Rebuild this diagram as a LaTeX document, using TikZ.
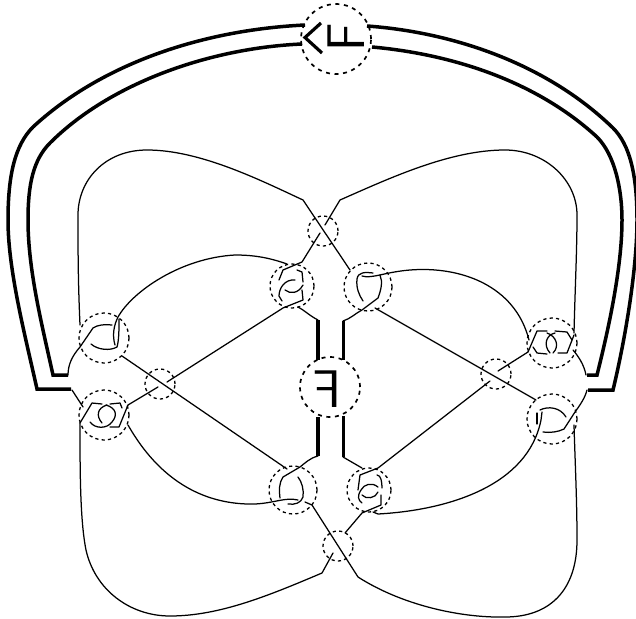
\documentclass[tikz,border=0pt]{standalone}
\usepackage{fontspec}
\newfontfamily\glyphfont{Latin Modern Sans}
\begin{document}
\begin{tikzpicture}[x=1pt,y=-1pt,
  strand/.style={line width=1.25pt,line cap=round,line join=round},
  band/.style={line width=3.5pt,line join=miter,line cap=butt},
  bandthin/.style={line width=3pt,line join=miter,line cap=butt},
  ring/.style={draw,circle,inner sep=0pt,line width=1.3pt,dash pattern=on 3.2pt off 3.2pt},
  bigring/.style={draw,circle,inner sep=0pt,line width=1.7pt,dash pattern=on 4pt off 4.6pt},
  glyph/.style={inner sep=0pt,font=\fontsize{53}{53}\selectfont\glyphfont}]
\useasboundingbox (0,0) rectangle (636,618);
% dashed rings
\node[bigring,minimum size=70pt] (topring) at (336,39) {};
\node[bigring,minimum size=60pt] (midring) at (330,387) {};
\foreach \nm/\px/\py/\dd in {lu/104/338/50,ll/104/415/50,cu/292/286/44,du/368/287/48,
   cl/293/490/48,dl/369/490/44,ru/552/343/50,rl/552/419/50}
  \node[ring,minimum size=\dd pt] (\nm) at (\px,\py) {};
\foreach \nm/\px/\py in {xt/323/231,xb/338/546,xl/160/384,xr/496/374}
  \node[ring,minimum size=30pt] (\nm) at (\px,\py) {};
% outer band
\draw[band] (71,389) -- (37,389) .. controls (25,335) and (8,270) .. (8,220) .. controls (8,175) and (15,145) .. (33,127) .. controls (100,65) and (200,30) .. (305,25);
\draw[band] (68,375) -- (53,375) .. controls (42,325) and (28,270) .. (28,220) .. controls (28,185) and (33,160) .. (50,143) .. controls (110,83) and (210,48) .. (302,44);
\draw[band] (588,390) -- (613,390) .. controls (625,340) and (637,270) .. (637,220) .. controls (637,175) and (630,145) .. (613,128) .. controls (545,62) and (450,32) .. (367,26);
\draw[band] (587,375) -- (597,375) .. controls (607,335) and (622,270) .. (622,220) .. controls (622,190) and (615,155) .. (597,137) .. controls (535,80) and (450,54) .. (372,47);
% centre band
\draw[band] (318,320) -- (318,360);
\draw[band] (318,417) -- (318,456);
\draw[bandthin] (343,321) -- (343,360);
\draw[bandthin] (343,416) -- (343,457);
% glyphs
\node[glyph,xscale=-1,yscale=1] (fmid) at (327,389.5) {F};
\node[glyph,rotate=90] (ftop) at (346,37) {F};
\draw[line width=3.2pt,miter limit=10] (321,23) -- (305,37.5) -- (322,53);
% big outer loops
\draw[strand] (80,325) .. controls (78,280) and (78,250) .. (78,215) .. controls (78,180) and (105,150) .. (147,150) .. controls (200,150) and (260,180) .. (303,200) -- (350,270);
\draw[strand] (574,333) .. controls (575,290) and (577,250) .. (577,215) .. controls (577,180) and (545,150) .. (505,150) .. controls (450,150) and (390,178) .. (340,200) -- (325,225);
\draw[strand] (320,233) -- (302,262) -- (283,270) -- (279,280);
\draw[strand] (80,423) .. controls (80,470) and (80,520) .. (86,550) .. controls (95,590) and (130,616) .. (170,616) .. controls (220,616) and (270,595) .. (322,573) -- (333,553);
\draw[strand] (345,533) -- (362,513) -- (381,505) -- (381,495);
\draw[strand] (305,502) -- (312,505) -- (358,577) .. controls (405,607) and (465,618) .. (505,617) .. controls (550,617) and (577,590) .. (577,540) .. controls (577,500) and (575,460) .. (574,425);
% long diagonals
\draw[strand] (122,356) -- (287,469);
\draw[strand] (375,308) -- (536,400);
\draw[strand] (128,405) -- (158,387);
\draw[strand] (167,382) -- (283,308) -- (303,300) -- (302,290);
\draw[strand] (358,490) -- (360,475) -- (378,468) -- (490,381);
\draw[strand] (498,371) -- (528,352);
% inner curves
\draw[strand] (115,345) .. controls (112,335) and (114,325) .. (118,317) .. controls (132,292) and (180,258) .. (235,255) .. controls (255,255) and (270,258) .. (287,264);
\draw[strand] (362,276) .. controls (372,279) and (385,272) .. (410,270) .. controls (460,266) and (515,285) .. (529,340);
\draw[strand] (128,425) .. controls (165,490) and (215,505) .. (255,504) .. controls (275,503) and (285,497) .. (298,500);
\draw[strand] (373,512) -- (378,514) .. controls (450,510) and (528,485) .. (541,420) -- (542,412);
% joins to bands
\draw[strand] (112,325) .. controls (105,324) and (97,325) .. (93,328) -- (80,347) .. controls (72,356) and (68,365) .. (68,375);
\draw[strand] (72,390) -- (83,407);
\draw[strand] (318,320) .. controls (310,316) and (304,310) .. (298,307);
\draw[strand] (343,321) .. controls (350,319) and (356,313) .. (362,310) -- (378,298) .. controls (381,290) and (383,282) .. (380,275);
\draw[strand] (318,456) .. controls (310,458) and (305,463) .. (300,467) -- (283,477) .. controls (279,483) and (279,490) .. (280,498);
\draw[strand] (343,457) -- (362,468);
\draw[strand] (573,350) .. controls (579,357) and (584,365) .. (586,375);
\draw[strand] (587,390) .. controls (585,398) and (580,405) .. (575,412) -- (564,429) .. controls (558,432) and (550,433) .. (543,432);
% left upper tangle
\draw[strand] (119,319) .. controls (119,330) and (119,340) .. (117,347) .. controls (110,351) and (98,350) .. (91,344);
% left lower tangle
\draw[strand] (80,423) -- (92,403) -- (102,404);
\draw[strand] (128,405) -- (119,427) -- (110,427);
\draw[strand] (110,404) -- (120,403) -- (122,408);
\draw[strand] (90,422) .. controls (95,429) and (107,429) .. (112,422) .. controls (118,415) and (116,408) .. (106,405);
\draw[strand] (107,405) .. controls (97,408) and (96,416) .. (102,423);
% centre upper tangle
\draw[strand] (297,270) -- (302,272) -- (303,282);
\draw[strand] (295,280) .. controls (285,279) and (279,288) .. (279,296) -- (282,301);
\draw[strand] (285,290) .. controls (290,294) and (298,294) .. (303,285);
% right upper small tangle
\draw[strand] (373,273) .. controls (365,272) and (358,272) .. (357,279) .. controls (356,288) and (359,295) .. (363,301);
% centre lower tangle
\draw[strand] (298,477) .. controls (302,482) and (304,490) .. (303,497) .. controls (301,503) and (295,505) .. (288,504);
% right lower tangle
\draw[strand] (377,475) .. controls (381,475) and (382,482) .. (382,488);
\draw[strand] (378,487) .. controls (372,482) and (364,484) .. (361,490) .. controls (357,496) and (358,500) .. (362,503);
\draw[strand] (362,495) .. controls (366,500) and (376,498) .. (378,492);
% right upper tangle
\draw[strand] (528,352) -- (537,331) -- (547,331);
\draw[strand] (555,331) -- (567,332) -- (572,340);
\draw[strand] (533,347) -- (537,353) -- (547,354);
\draw[strand] (558,353) -- (567,353) -- (574,335);
\draw[strand] (555,333) .. controls (546,335) and (543,345) .. (550,353);
\draw[strand] (547,333) .. controls (556,336) and (560,346) .. (553,353);
% right lower tangle
\draw[strand] (537,413) -- (537,424);
\draw[strand] (540,410) .. controls (548,406) and (560,407) .. (566,417);
\end{tikzpicture}
\end{document}
